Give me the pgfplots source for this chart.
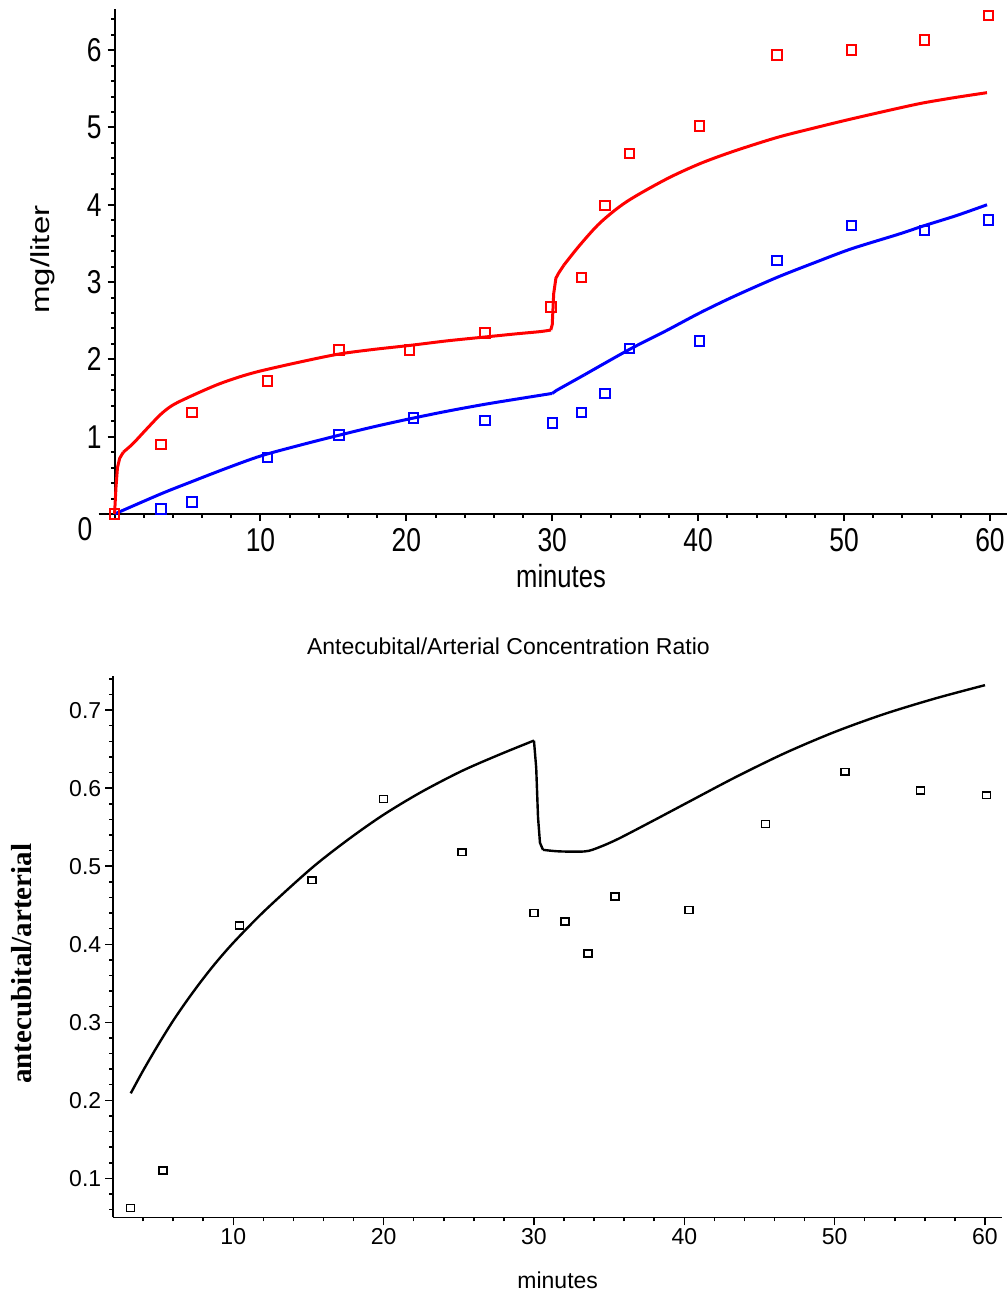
\documentclass[border=0pt]{standalone}
\usepackage{fontspec}
\setmainfont{Liberation Sans}
\newfontfamily\topfont[FakeStretch=0.8]{Liberation Sans}
\newfontfamily\topyfont[FakeStretch=1.27]{Liberation Sans}
\newfontfamily\ylabfont{Liberation Serif}
\usepackage{pgfplots}
\pgfplotsset{compat=1.18}
\begin{document}
\begin{tikzpicture}
\useasboundingbox (0,0) rectangle (503.5pt,646.5pt);
% ---------------- top plot ----------------
\begin{axis}[
  at={(49.25pt,387.55pt)}, anchor=south west,
  scale only axis, width=454.1pt, height=254.35pt,
  xmin=-1.1, xmax=61.15, ymin=-0.05, ymax=6.53,
  axis lines=middle, axis line style={-,line width=1pt},
  clip=false,
  xtick={10,20,30,40,50,60}, xticklabels={10,20,30,40,50,60},
  ytick={1,2,3,4,5,6}, yticklabels={1,2,3,4,5,6},
  minor xtick={2,4,...,60},
  minor ytick={0.2,0.4,...,6.45},
  tick align=outside,
  major tick length=3.5pt, minor tick length=1.75pt,
  every tick/.style={line width=1pt, black},
  xticklabel style={font=\topfont\fontsize{16.5}{18}\selectfont, anchor=north, inner sep=0pt, yshift=-3.6pt},
  yticklabel style={font=\topfont\fontsize{16.5}{18}\selectfont, anchor=east, inner sep=0pt, xshift=-2.75pt},
]
\addplot[blue, line width=1.5pt, mark=none, smooth] coordinates {
(0,0)(3.17,0.26)(5.31,0.42)(7.5,0.58)(10,0.75)(12.7,0.89)(15.4,1.02)(17.8,1.13)
(20.2,1.23)(22.8,1.33)(25.4,1.42)(28,1.5)(30,1.56)};
\addplot[blue, line width=1.5pt, mark=none] coordinates {(30,1.56)(30.3,1.6)(32.2,1.80)};
\addplot[blue, line width=1.5pt, mark=none, smooth] coordinates {
(32.2,1.80)(35.3,2.13)
(37.8,2.37)(40.1,2.6)(42.4,2.81)(45.4,3.06)(48.1,3.26)(50.5,3.43)(53.75,3.62)
(55.5,3.73)(57.7,3.86)(59.8,4.0)};
\addplot[red, line width=1.5pt, mark=none] coordinates {
(0,0)(0.1,0.35)(0.2,0.6)(0.35,0.72)(0.6,0.8)};
\addplot[red, line width=1.5pt, mark=none, smooth] coordinates {
(0.6,0.8)(1.26,0.91)(2.2,1.1)(3.17,1.29)(4.0,1.41)
(5.3,1.53)(7.0,1.67)(8.5,1.77)(10,1.85)(12.8,1.97)(15.4,2.07)(17.8,2.13)(20.2,2.18)
(22.8,2.24)(25.4,2.29)(27.5,2.33)(29.2,2.36)(29.9,2.38)};
\addplot[red, line width=1.5pt, mark=none] coordinates {
(29.9,2.38)(30.0,2.45)(30.1,2.85)(30.25,3.05)(30.45,3.12)(30.8,3.22)};
\addplot[red, line width=1.5pt, mark=none, smooth] coordinates {
(30.8,3.22)(31.9,3.48)(33.3,3.77)(35.1,4.04)(37.8,4.33)
(40.1,4.53)(42.4,4.69)(45.4,4.87)(48.1,5.00)(50.5,5.11)(53.75,5.25)(55.5,5.32)
(57.7,5.39)(59.8,5.45)};
\addplot[blue, only marks, mark=square, mark size=2.37pt, mark options={line width=1pt}] coordinates {
(0,0)(3.17,0.065)(5.31,0.155)(10.5,0.73)(15.4,1.02)(20.5,1.24)(25.4,1.21)
(30.0,1.18)(32.0,1.31)(33.6,1.56)(35.3,2.14)(40.1,2.24)(45.4,3.28)(50.5,3.73)
(55.5,3.67)(59.9,3.80)};
\addplot[red, only marks, mark=square, mark size=2.37pt, mark options={line width=1pt}] coordinates {
(0,0)(3.17,0.90)(5.31,1.31)(10.5,1.72)(15.4,2.12)(20.2,2.12)(25.4,2.34)
(29.9,2.68)(32.0,3.06)(33.6,3.99)(35.3,4.66)(40.1,5.02)(45.4,5.94)(50.5,6.00)
(55.5,6.13)(59.9,6.45)};
\node[anchor=base, inner sep=0pt, font=\topfont\fontsize{16}{18}\selectfont] at (axis cs:30.6,-0.95) {minutes};
\node[anchor=base, rotate=90, inner sep=0pt, font=\topyfont\fontsize{13}{15}\selectfont] at (axis cs:-4.47,3.29) {mg/liter};
\node[anchor=center, inner sep=0pt, font=\topfont\fontsize{16.5}{18}\selectfont] at (axis cs:-2.02,-0.194) {0};
\end{axis}
% ---------------- bottom plot ----------------
\begin{axis}[
  at={(56.5pt,37.8pt)}, anchor=south west,
  scale only axis, width=444.25pt, height=270.8pt,
  xmin=2, xmax=61.1, ymin=0.05, ymax=0.744,
  axis lines=left, axis line style={-,line width=0.75pt},
  clip=false,
  xtick={10,20,30,40,50,60}, xticklabels={10,20,30,40,50,60},
  ytick={0.1,0.2,0.3,0.4,0.5,0.6,0.7}, yticklabels={0.1,0.2,0.3,0.4,0.5,0.6,0.7},
  minor xtick={4,6,...,60},
  minor ytick={0.06,0.08,...,0.745},
  tick align=outside,
  major tick length=4pt, minor tick length=2pt,
  every tick/.style={line width=0.75pt, black},
  xticklabel style={font=\fontsize{11.5}{13}\selectfont, anchor=north, inner sep=0pt, yshift=-1.3pt},
  yticklabel style={font=\fontsize{11.5}{13}\selectfont, anchor=east, inner sep=0pt, xshift=-1.7pt},
]
\addplot[black, line width=1.2pt, mark=none, smooth] coordinates {
(3.18,0.209)(4,0.238)(5,0.271)(6,0.302)(7,0.330)(8,0.356)(9,0.380)(10.2,0.406)
(12.2,0.445)(15.24,0.498)(17.7,0.535)(20.0,0.566)(22.5,0.595)(25.2,0.622)(27.7,0.643)(30,0.661)};
\addplot[black, line width=1.2pt, mark=none] coordinates {
(30,0.661)(30.15,0.626)(30.27,0.563)(30.4,0.530)(30.6,0.521)};
\addplot[black, line width=1.2pt, mark=none, smooth] coordinates {
(30.6,0.521)(31.7,0.519)(33.4,0.519)(34.3,0.524)
(35.6,0.535)(37.8,0.557)(40.25,0.582)(43.4,0.614)(46.7,0.645)(50,0.672)(53.3,0.695)
(56.7,0.715)(60,0.732)};
\addplot[black, only marks, mark=square, mark size=2pt, mark options={line width=0.75pt, yscale=0.85}] coordinates {
(3.18,0.062)(5.31,0.110)(10.4,0.424)(15.24,0.482)(20.0,0.586)(25.2,0.518)
(30,0.440)(32.06,0.429)(33.6,0.388)(35.4,0.461)(40.3,0.444)(45.4,0.554)(50.7,0.621)
(55.7,0.597)(60.1,0.591)};
\node[anchor=base, inner sep=0pt, font=\fontsize{11.5}{13}\selectfont] at (axis cs:28.3,0.7717) {Antecubital/Arterial Concentration Ratio};
\node[anchor=base, inner sep=0pt, font=\fontsize{11.5}{13}\selectfont] at (axis cs:31.58,-0.0405) {minutes};
\node[anchor=base, rotate=90, inner sep=0pt, font=\ylabfont\bfseries\fontsize{14.5}{16}\selectfont] at (axis cs:-3.43,0.3749) {antecubital/arterial};
\end{axis}
\end{tikzpicture}
\end{document}
